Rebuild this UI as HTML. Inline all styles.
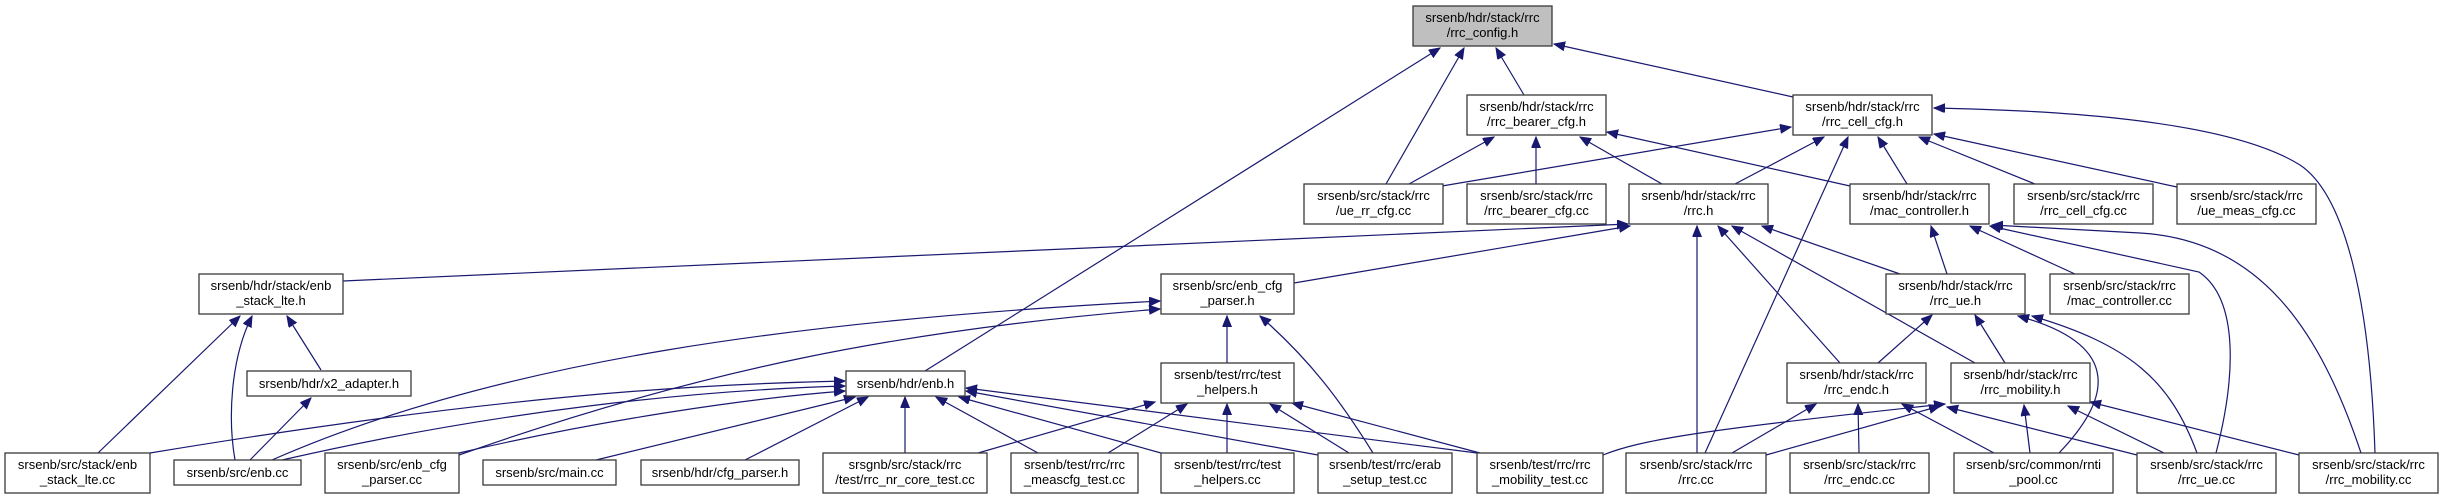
<!DOCTYPE html>
<html><head><meta charset="utf-8"><style>
html,body{margin:0;padding:0;background:#fff;}
svg{display:block;}
text{font-family:"Liberation Sans",Arial,sans-serif;font-size:13px;fill:#000;text-anchor:middle;}
.n{fill:#fff;stroke:#3a3a3a;stroke-width:1.3;}
.g{fill:#bfbfbf;stroke:#3a3a3a;stroke-width:1.3;}
.e{fill:none;stroke:#191970;stroke-width:1.2;marker-end:url(#a);}
</style></head><body>
<svg width="2443" height="499" viewBox="0 0 2443 499" xmlns="http://www.w3.org/2000/svg">
<defs><marker id="a" markerUnits="userSpaceOnUse" markerWidth="12" markerHeight="10" refX="11" refY="4.5" orient="auto"><path d="M0,0 L11,4.5 L0,9 z" fill="#191970" stroke="#191970"/></marker></defs>

<!-- edges -->
<path class="e" d="M925,371 L1440,48"/>
<path class="e" d="M1386,184 L1464,48"/>
<path class="e" d="M1524,95 L1496,48"/>
<path class="e" d="M1793,97 L1554,44"/>
<path class="e" d="M1409,184 L1494,137"/>
<path class="e" d="M1536,184 L1536,137"/>
<path class="e" d="M1662,184 L1580,137"/>
<path class="e" d="M1850,186 L1607,132"/>
<path class="e" d="M1442,186 L1791,127"/>
<path class="e" d="M1735,184 L1824,137"/>
<path class="e" d="M1907,184 L1878,137"/>
<path class="e" d="M2035,184 L1919,137"/>
<path class="e" d="M2177,187 L1934,134"/>
<path class="e" d="M2375,453 C2370,300 2345,195 2300,165 C2220,115 2020,110 1934,108"/>
<path class="e" d="M1705,453 L1848,137"/>
<path class="e" d="M343,281 L1628,224"/>
<path class="e" d="M1294,283 L1630,226"/>
<path class="e" d="M1900,274 L1762,226"/>
<path class="e" d="M1840,363 L1718,226"/>
<path class="e" d="M1975,363 L1732,226"/>
<path class="e" d="M1697,453 L1697,226"/>
<path class="e" d="M1947,274 L1931,226"/>
<path class="e" d="M2075,274 L1970,226"/>
<path class="e" d="M2216,453 C2235,380 2240,300 2199,272 L1990,226"/>
<path class="e" d="M2361,453 C2320,330 2260,240 2140,233 L1992,225"/>
<path class="e" d="M98,453 L240,316"/>
<path class="e" d="M235,460 C228,420 230,360 252,316"/>
<path class="e" d="M321,370 L287,316"/>
<path class="e" d="M250,460 L311,398"/>
<path class="e" d="M272,460 C500,360 800,320 1160,301"/>
<path class="e" d="M459,455 C700,370 900,330 1160,309"/>
<path class="e" d="M1227,363 L1227,316"/>
<path class="e" d="M1373,453 C1340,400 1310,360 1260,316"/>
<path class="e" d="M150,453 C500,395 700,384 845,381"/>
<path class="e" d="M282,460 C500,410 700,390 845,386"/>
<path class="e" d="M459,453 C600,420 750,398 845,391"/>
<path class="e" d="M596,460 L855,397"/>
<path class="e" d="M745,460 L868,397"/>
<path class="e" d="M905,453 L905,397"/>
<path class="e" d="M1038,453 L936,397"/>
<path class="e" d="M1161,453 L959,397"/>
<path class="e" d="M1318,455 L966,391"/>
<path class="e" d="M1477,453 L966,388"/>
<path class="e" d="M978,453 L1155,402"/>
<path class="e" d="M1108,453 L1187,404"/>
<path class="e" d="M1227,453 L1227,404"/>
<path class="e" d="M1349,453 L1270,404"/>
<path class="e" d="M1480,453 L1292,403"/>
<path class="e" d="M1878,363 L1932,315"/>
<path class="e" d="M2005,363 L1975,315"/>
<path class="e" d="M2059,453 C2110,400 2125,345 2018,316"/>
<path class="e" d="M2197,453 C2170,380 2130,345 2032,316"/>
<path class="e" d="M1732,453 L1816,404"/>
<path class="e" d="M1859,453 L1858,404"/>
<path class="e" d="M1994,453 L1902,404"/>
<path class="e" d="M1603,455 C1640,440 1700,430 1945,404"/>
<path class="e" d="M1766,455 L1940,406"/>
<path class="e" d="M2137,455 L1947,407"/>
<path class="e" d="M2030,453 L2024,405"/>
<path class="e" d="M2164,453 L2068,406"/>
<path class="e" d="M2299,455 L2090,402"/>

<!-- nodes -->
<rect class="g" x="1413" y="6" width="139" height="40"/><text x="1482.5" y="22">srsenb/hdr/stack/rrc</text><text x="1482.5" y="37">/rrc_config.h</text>
<rect class="n" x="1467" y="95" width="139" height="40"/><text x="1536.5" y="111">srsenb/hdr/stack/rrc</text><text x="1536.5" y="126">/rrc_bearer_cfg.h</text>
<rect class="n" x="1793" y="95" width="139" height="40"/><text x="1862.5" y="111">srsenb/hdr/stack/rrc</text><text x="1862.5" y="126">/rrc_cell_cfg.h</text>
<rect class="n" x="1304" y="184" width="139" height="40"/><text x="1373.5" y="200">srsenb/src/stack/rrc</text><text x="1373.5" y="215">/ue_rr_cfg.cc</text>
<rect class="n" x="1467" y="184" width="139" height="40"/><text x="1536.5" y="200">srsenb/src/stack/rrc</text><text x="1536.5" y="215">/rrc_bearer_cfg.cc</text>
<rect class="n" x="1629" y="184" width="139" height="40"/><text x="1698.5" y="200">srsenb/hdr/stack/rrc</text><text x="1698.5" y="215">/rrc.h</text>
<rect class="n" x="1850" y="184" width="139" height="40"/><text x="1919.5" y="200">srsenb/hdr/stack/rrc</text><text x="1919.5" y="215">/mac_controller.h</text>
<rect class="n" x="2014" y="184" width="139" height="40"/><text x="2083.5" y="200">srsenb/src/stack/rrc</text><text x="2083.5" y="215">/rrc_cell_cfg.cc</text>
<rect class="n" x="2177" y="184" width="139" height="40"/><text x="2246.5" y="200">srsenb/src/stack/rrc</text><text x="2246.5" y="215">/ue_meas_cfg.cc</text>
<rect class="n" x="199" y="274" width="144" height="40"/><text x="271" y="290">srsenb/hdr/stack/enb</text><text x="271" y="305">_stack_lte.h</text>
<rect class="n" x="1161" y="274" width="133" height="40"/><text x="1227.5" y="290">srsenb/src/enb_cfg</text><text x="1227.5" y="305">_parser.h</text>
<rect class="n" x="1886" y="274" width="139" height="40"/><text x="1955.5" y="290">srsenb/hdr/stack/rrc</text><text x="1955.5" y="305">/rrc_ue.h</text>
<rect class="n" x="2050" y="274" width="139" height="40"/><text x="2119.5" y="290">srsenb/src/stack/rrc</text><text x="2119.5" y="305">/mac_controller.cc</text>
<rect class="n" x="247" y="371" width="164" height="25"/><text x="329" y="388">srsenb/hdr/x2_adapter.h</text>
<rect class="n" x="846" y="371" width="119" height="25"/><text x="905.5" y="388">srsenb/hdr/enb.h</text>
<rect class="n" x="1161" y="363" width="133" height="40"/><text x="1227.5" y="379">srsenb/test/rrc/test</text><text x="1227.5" y="394">_helpers.h</text>
<rect class="n" x="1787" y="363" width="139" height="40"/><text x="1856.5" y="379">srsenb/hdr/stack/rrc</text><text x="1856.5" y="394">/rrc_endc.h</text>
<rect class="n" x="1951" y="363" width="139" height="40"/><text x="2020.5" y="379">srsenb/hdr/stack/rrc</text><text x="2020.5" y="394">/rrc_mobility.h</text>

<rect class="n" x="5" y="453" width="145" height="40"/><text x="77.5" y="469">srsenb/src/stack/enb</text><text x="77.5" y="484">_stack_lte.cc</text>
<rect class="n" x="174" y="460" width="127" height="25"/><text x="237.5" y="477">srsenb/src/enb.cc</text>
<rect class="n" x="325" y="453" width="134" height="40"/><text x="392" y="469">srsenb/src/enb_cfg</text><text x="392" y="484">_parser.cc</text>
<rect class="n" x="483" y="460" width="133" height="25"/><text x="549.5" y="477">srsenb/src/main.cc</text>
<rect class="n" x="641" y="460" width="158" height="25"/><text x="720" y="477">srsenb/hdr/cfg_parser.h</text>
<rect class="n" x="823" y="453" width="164" height="40"/><text x="905" y="469">srsgnb/src/stack/rrc</text><text x="905" y="484">/test/rrc_nr_core_test.cc</text>
<rect class="n" x="1011" y="453" width="127" height="40"/><text x="1074.5" y="469">srsenb/test/rrc/rrc</text><text x="1074.5" y="484">_meascfg_test.cc</text>
<rect class="n" x="1161" y="453" width="133" height="40"/><text x="1227.5" y="469">srsenb/test/rrc/test</text><text x="1227.5" y="484">_helpers.cc</text>
<rect class="n" x="1318" y="453" width="134" height="40"/><text x="1385" y="469">srsenb/test/rrc/erab</text><text x="1385" y="484">_setup_test.cc</text>
<rect class="n" x="1477" y="453" width="126" height="40"/><text x="1540" y="469">srsenb/test/rrc/rrc</text><text x="1540" y="484">_mobility_test.cc</text>
<rect class="n" x="1626" y="453" width="140" height="40"/><text x="1696" y="469">srsenb/src/stack/rrc</text><text x="1696" y="484">/rrc.cc</text>
<rect class="n" x="1790" y="453" width="139" height="40"/><text x="1859.5" y="469">srsenb/src/stack/rrc</text><text x="1859.5" y="484">/rrc_endc.cc</text>
<rect class="n" x="1954" y="453" width="159" height="40"/><text x="2033.5" y="469">srsenb/src/common/rnti</text><text x="2033.5" y="484">_pool.cc</text>
<rect class="n" x="2137" y="453" width="139" height="40"/><text x="2206.5" y="469">srsenb/src/stack/rrc</text><text x="2206.5" y="484">/rrc_ue.cc</text>
<rect class="n" x="2299" y="453" width="139" height="40"/><text x="2368.5" y="469">srsenb/src/stack/rrc</text><text x="2368.5" y="484">/rrc_mobility.cc</text>
</svg>
</body></html>
